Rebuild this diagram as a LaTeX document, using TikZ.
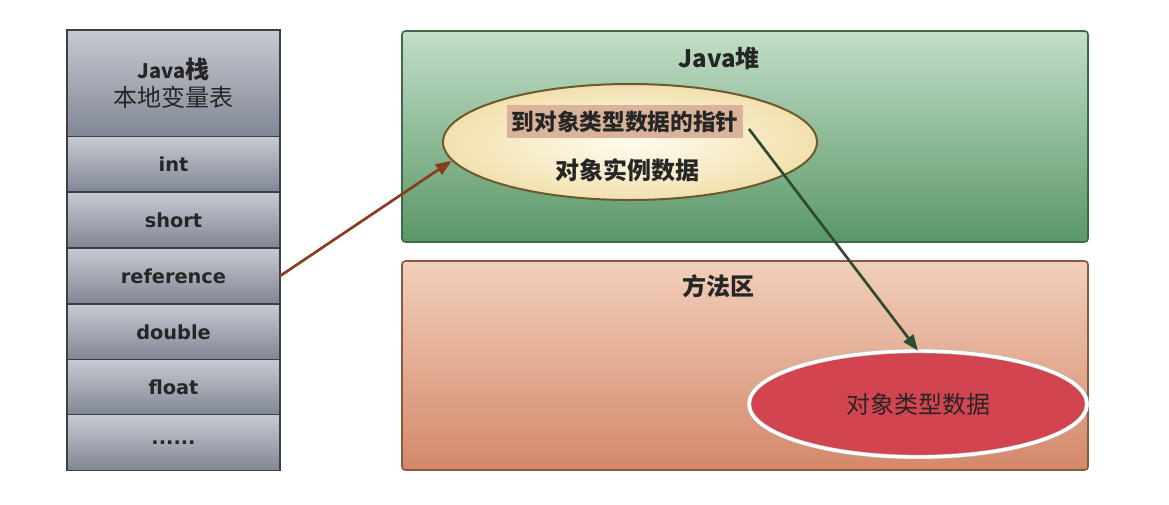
\documentclass[tikz,border=0pt]{standalone}
\usepackage{fontspec}
\setmainfont{DejaVu Sans}
\newfontfamily\cjk{Noto Sans CJK SC}
\usetikzlibrary{shapes.geometric,arrows.meta}
\definecolor{celltop}{HTML}{C6CAD2}
\definecolor{cellbot}{HTML}{808693}
\definecolor{cellline}{HTML}{3C3F45}
\definecolor{heaptop}{HTML}{C2DEC8}
\definecolor{heapbot}{HTML}{5A9767}
\definecolor{heapline}{HTML}{3E6A48}
\definecolor{methtop}{HTML}{F1CFBB}
\definecolor{methbot}{HTML}{D4886A}
\definecolor{methline}{HTML}{8A5A40}
\definecolor{objin}{HTML}{FFFCEF}
\definecolor{objout}{HTML}{F2E0AE}
\definecolor{objline}{HTML}{6B5A2C}
\definecolor{ptrfill}{HTML}{DAB49A}
\definecolor{typefill}{HTML}{D2444F}
\definecolor{refarrow}{HTML}{8A3C1E}
\definecolor{ptrarrow}{HTML}{2E4A30}
\tikzset{
  cell/.style={draw=cellline, line width=1.2pt, top color=celltop, bottom color=cellbot,
    minimum width={213*0.75pt}, minimum height={56*0.75pt}, outer sep=0pt, inner sep=0pt,
    font=\fontsize{14.5}{16}\selectfont\bfseries, text=black!85},
  area/.style={rounded corners=2.5pt, line width=1.2pt},
  title/.style={font=\cjk\fontsize{18}{20}\selectfont\bfseries, text=black!85},
  conn/.style={line width=2pt, -{Triangle[length=12pt,width=9pt]}},
}
\begin{document}
\begin{tikzpicture}[x=0.75pt,y=-0.75pt]
\useasboundingbox (0,0) rectangle (1169,504);
\fill[white] (0,0) rectangle (1169,504);
% stack
\node[cell, minimum height={107*0.75pt}, align=center, font=\cjk\fontsize{18}{22}\selectfont] (head) at (173.5,83.5)
  {{\bfseries\fontsize{15}{22}\selectfont Java}{\bfseries 栈}\\[-1pt]本地变量表};
\node[cell] (int) at (173.5,164.5) {int};
\node[cell] (short) at (173.5,220) {short};
\node[cell] (ref) at (173.5,276) {reference};
\node[cell] (dbl) at (173.5,332) {double};
\node[cell] (flt) at (173.5,387.5) {float};
\node[cell] (more) at (173.5,442.5) {......};
% heap
\draw[area, draw=heapline, top color=heaptop, bottom color=heapbot] (402,31) rectangle (1088,242);
\node[title] (heap) at (719,58) {Java堆};
% method area
\draw[area, draw=methline, top color=methtop, bottom color=methbot] (402,261) rectangle (1088,470);
\node[title] (meth) at (718,286) {方法区};
% object ellipse
\node[ellipse, draw=objline, line width=1.5pt, inner color=objin, outer color=objout,
  minimum width={374*0.75pt}, minimum height={116*0.75pt}] (obj) at (630,142) {};
\node[fill=ptrfill, minimum width={236*0.75pt}, minimum height={33*0.75pt}, inner sep=0pt,
  font=\cjk\fontsize{17}{19}\selectfont\bfseries, text=black!85] (ptr) at (625,121.5) {到对象类型数据的指针};
\node[font=\cjk\fontsize{18}{20}\selectfont\bfseries, text=black!85] (inst) at (627,170) {对象实例数据};
% type data ellipse
\node[ellipse, draw=black!25, double=white, double distance=2.5pt, fill=typefill,
  minimum width={338*0.75pt}, minimum height={106*0.75pt}, font=\cjk\fontsize{18}{20}\selectfont, text=black!85] (type) at (918,404) {对象类型数据};
% connectors
\draw[conn, refarrow] (ref.east) -- (obj.186);
\draw[conn, ptrarrow, shorten <=7pt] (ptr.east) -- (type.north);
\end{tikzpicture}
\end{document}
